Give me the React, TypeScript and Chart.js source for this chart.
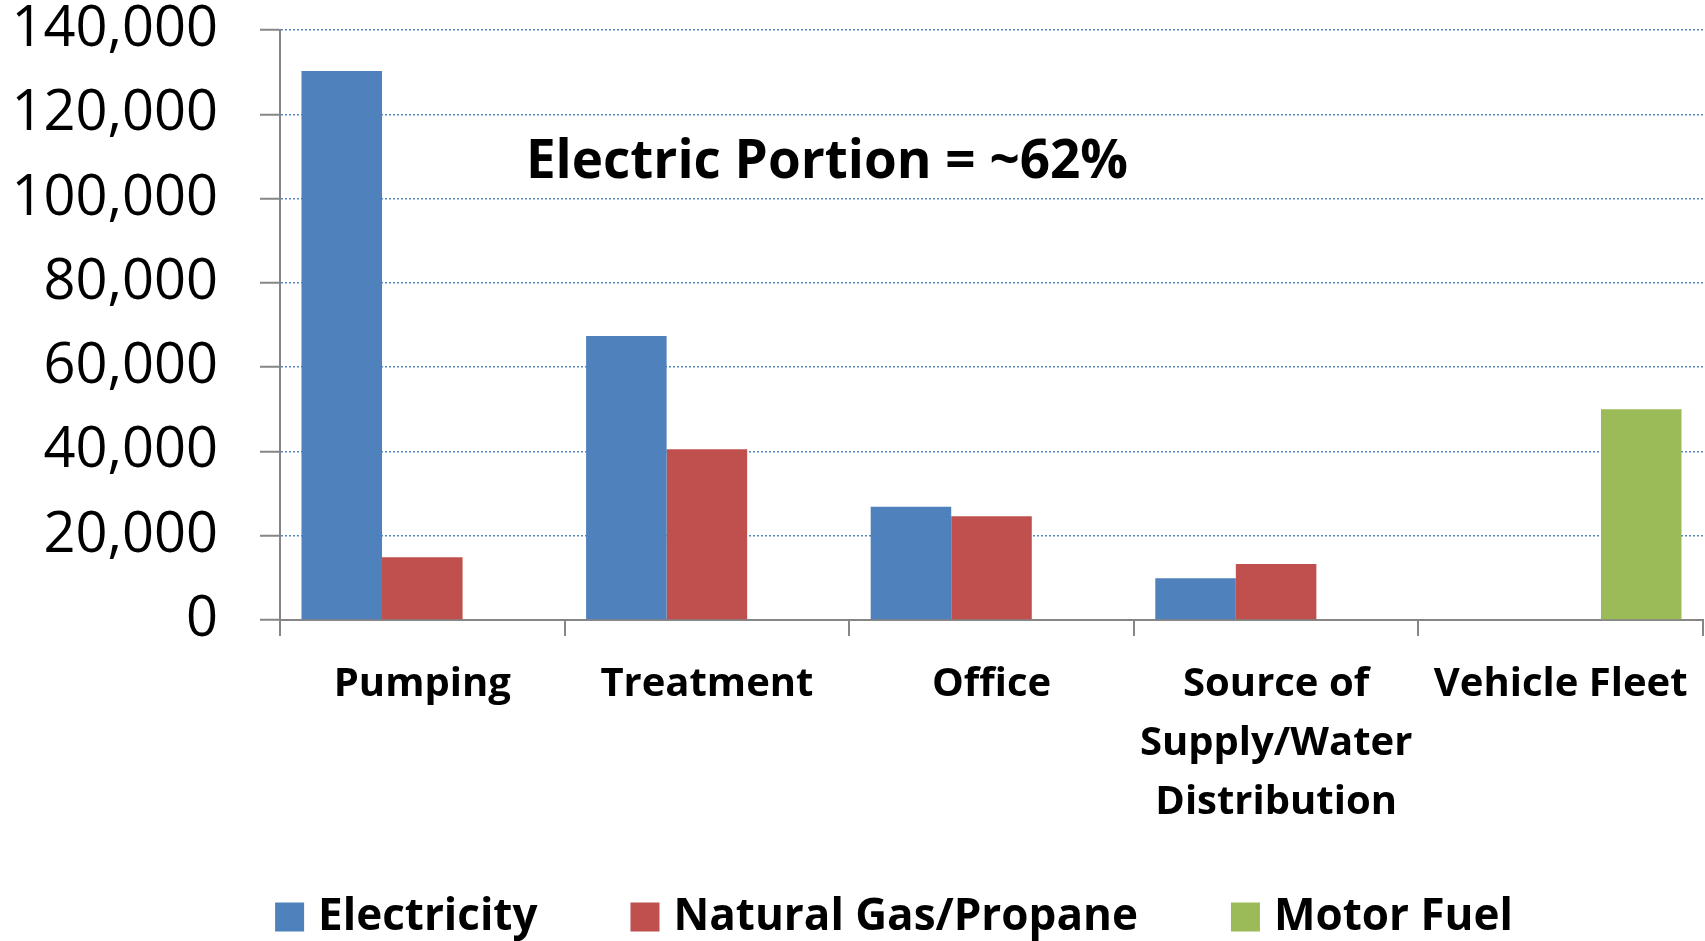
import React, { useEffect, useRef } from 'react';
import { Chart, registerables } from 'chart.js';

Chart.register(...registerables);

// ---- data ----
const categories: (string | string[])[] = [
  'Pumping',
  'Treatment',
  'Office',
  ['Source of', 'Supply/Water', 'Distribution'],
  'Vehicle Fleet',
];
const electricity: (number | null)[] = [130300, 67400, 26900, 9900, null];
const naturalGas: (number | null)[] = [14900, 40500, 24600, 13300, null];
const motorFuel: (number | null)[] = [null, null, null, null, 50000];
const seriesNames = ['Electricity', 'Natural Gas/Propane', 'Motor Fuel'];
const seriesColors = ['#4F81BD', '#C0504D', '#9BBB59'];
const yMin = 0;
const yMax = 140000;
const yStep = 20000;
const annotationText = 'Electric Portion = ~62%';

const FONT = '"Open Sans", "Noto Sans", sans-serif';
const AXIS_GREY = '#868686';
const GRID_BLUE = 'rgba(74,126,187,0.95)';

const legendPlugin = {
  id: 'customLegend',
  afterDraw(chart: any) {
    const ctx = chart.ctx as CanvasRenderingContext2D;
    ctx.save();
    ctx.font = `bold 44px ${FONT}`;
    ctx.textBaseline = 'middle';
    ctx.textAlign = 'left';
    const box = 29;
    const gapText = 14;
    const gapItem = 93;
    const items = chart.data.datasets.map((ds: any) => ({
      text: ds.label as string,
      color: ds.backgroundColor as string,
      w: ctx.measureText(ds.label).width,
    }));
    const total =
      items.reduce((s: number, it: any) => s + box + gapText + it.w, 0) +
      gapItem * (items.length - 1);
    let x = 894 - total / 2;
    const cy = 917;
    items.forEach((it: any) => {
      ctx.fillStyle = it.color;
      ctx.fillRect(x, cy - box / 2, box, box);
      ctx.fillStyle = '#000';
      ctx.fillText(it.text, x + box + gapText, cy);
      x += box + gapText + it.w + gapItem;
    });
    ctx.restore();
  },
};

const annotationPlugin = {
  id: 'annotationText',
  afterDraw(chart: any) {
    const ctx = chart.ctx as CanvasRenderingContext2D;
    ctx.save();
    ctx.font = `bold 53px ${FONT}`;
    ctx.textBaseline = 'alphabetic';
    ctx.textAlign = 'center';
    ctx.fillStyle = '#000';
    ctx.fillText(annotationText, 827, 178);
    ctx.restore();
  },
};

export default function App() {
  const canvasRef = useRef<HTMLCanvasElement | null>(null);

  useEffect(() => {
    const canvas = canvasRef.current;
    if (!canvas) return;
    const chart = new Chart(canvas, {
      type: 'bar',
      data: {
        labels: categories,
        datasets: [
          { label: seriesNames[0], data: electricity, backgroundColor: seriesColors[0] },
          { label: seriesNames[1], data: naturalGas, backgroundColor: seriesColors[1] },
          { label: seriesNames[2], data: motorFuel, backgroundColor: seriesColors[2] },
        ],
      },
      options: {
        responsive: false,
        maintainAspectRatio: false,
        animation: false,
        devicePixelRatio: 1,
        layout: { padding: { top: 30, right: 2, bottom: 0, left: 0 } },
        datasets: {
          bar: { categoryPercentage: 0.849, barPercentage: 1.0 },
        },
        plugins: {
          legend: { display: false },
          tooltip: { enabled: false },
          title: { display: false },
        },
        scales: {
          x: {
            type: 'category',
            offset: true,
            afterFit: (scale: any) => {
              scale.height = 321;
              scale.paddingLeft = 0;
              scale.paddingRight = 0;
            },
            grid: {
              display: true,
              offset: true,
              drawOnChartArea: false,
              drawTicks: true,
              tickLength: 16,
              color: AXIS_GREY,
              lineWidth: 2,
            },
            border: { display: true, color: AXIS_GREY, width: 2 },
            ticks: {
              color: '#000',
              padding: 19.5,
              maxRotation: 0,
              minRotation: 0,
              autoSkip: false,
              font: { family: FONT, size: 40, weight: 'bold', lineHeight: 1.47 },
            },
          },
          y: {
            type: 'linear',
            min: yMin,
            max: yMax,
            afterFit: (scale: any) => {
              scale.width = 280;
              scale.paddingTop = 0;
              scale.paddingBottom = 0;
            },
            grid: {
              display: true,
              drawOnChartArea: true,
              drawTicks: true,
              tickLength: 20,
              color: (c: any) => (c.tick && c.tick.value === 0 ? 'rgba(0,0,0,0)' : GRID_BLUE),
              lineWidth: 1.5,
              tickColor: AXIS_GREY,
              tickWidth: 2,
              tickBorderDash: [],
            },
            border: { display: true, color: AXIS_GREY, width: 2, dash: [2, 2] },
            ticks: {
              stepSize: yStep,
              color: '#000',
              padding: 42,
              font: { family: FONT, size: 56, lineHeight: 1 },
              callback: (v: any) => Number(v).toLocaleString('en-US'),
            },
          },
        },
      } as any,
      plugins: [legendPlugin, annotationPlugin],
    });
    return () => chart.destroy();
  }, []);

  return (
    <div style={{ position: 'absolute', left: 0, top: 0, width: 1705, height: 941, background: '#fff' }}>
      <canvas ref={canvasRef} width={1705} height={941} style={{ display: 'block' }} />
    </div>
  );
}
